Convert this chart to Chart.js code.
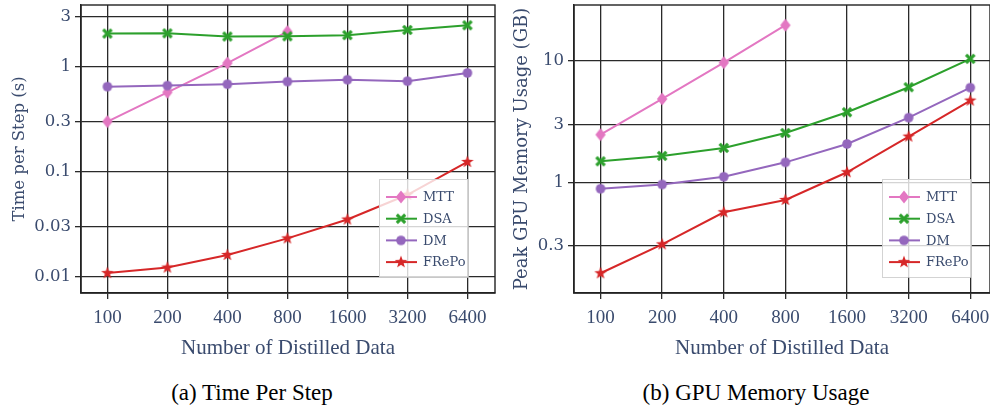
<!DOCTYPE html>
<html>
<head>
<meta charset="utf-8">
<script src="https://cdn.jsdelivr.net/npm/chart.js@4.4.1/dist/chart.umd.min.js"></script>
<style>
  body { margin: 0; background: #fff; }
  #wrap { position: relative; width: 990px; height: 408px; overflow: hidden; }
  canvas { position: absolute; top: 0; }
  .cap { position: absolute; top: 380px; font-family: "Liberation Serif", serif; font-size: 23px; color: #000; white-space: nowrap; transform: translateX(-50%); }
</style>
</head>
<body>
<div id="wrap">
  <canvas id="timeChart" width="497" height="370" style="left:0"></canvas>
  <canvas id="memChart" width="495" height="370" style="left:495px"></canvas>
  <div class="cap" style="left:252px">(a) Time Per Step</div>
  <div class="cap" style="left:756px">(b) GPU Memory Usage</div>
</div>
<script>
// number of distilled data (x axis)
const sizes = [100, 200, 400, 800, 1600, 3200, 6400];
const methods = ['MTT', 'DSA', 'DM', 'FRePo'];

// time per step (s)
const timeMTT = [0.30, 0.57, 1.08, 2.15, null, null, null];
const timeDSA = [2.06, 2.07, 1.93, 1.94, 1.99, 2.23, 2.47];
const timeDM = [0.645, 0.66, 0.68, 0.72, 0.75, 0.727, 0.87];
const timeFRePo = [0.0109, 0.0123, 0.0162, 0.0233, 0.0352, 0.0605, 0.124];
const timeTicks = [0.01, 0.03, 0.1, 0.3, 1, 3];

// peak GPU memory usage (GB)
const memMTT = [2.47, 4.86, 9.68, 19.7, null, null, null];
const memDSA = [1.49, 1.65, 1.92, 2.55, 3.78, 6.07, 10.4];
const memDM = [0.885, 0.96, 1.11, 1.46, 2.07, 3.41, 6.02];
const memFRePo = [0.178, 0.308, 0.566, 0.715, 1.21, 2.38, 4.71];
const memTicks = [0.3, 1, 3, 10];

const colors = { MTT: '#e377c2', DSA: '#2ca02c', DM: '#9467bd', FRePo: '#d62728' };
const textColor = '#3a4b6e';

function makeMarker(kind, color) {
    const c = document.createElement('canvas');
    c.width = 16; c.height = 16;
    const g = c.getContext('2d');
    g.translate(8, 8);
    g.fillStyle = color;
    g.strokeStyle = color;
    if (kind === 'diamond') {
        g.beginPath();
        g.moveTo(0, -6.4); g.lineTo(5.2, 0); g.lineTo(0, 6.4); g.lineTo(-5.2, 0);
        g.closePath(); g.fill();
    } else if (kind === 'x') {
        g.lineWidth = 3.2;
        g.beginPath();
        g.moveTo(-4.2, -4.2); g.lineTo(4.2, 4.2);
        g.moveTo(-4.2, 4.2); g.lineTo(4.2, -4.2);
        g.stroke();
    } else if (kind === 'circle') {
        g.beginPath(); g.arc(0, 0, 4.8, 0, Math.PI * 2); g.fill();
    } else if (kind === 'star') {
        g.beginPath();
        for (let i = 0; i < 10; i++) {
            const r = i % 2 ? 2.7 : 6.6;
            const a = -Math.PI / 2 + i * Math.PI / 5;
            g.lineTo(r * Math.cos(a), r * Math.sin(a));
        }
        g.closePath(); g.fill();
    }
    return c;
}

const markers = {
    MTT: makeMarker('diamond', colors.MTT),
    DSA: makeMarker('x', colors.DSA),
    DM: makeMarker('circle', colors.DM),
    FRePo: makeMarker('star', colors.FRePo)
};

// legend box in lower right and a full frame around the plot area
const frameLegend = {
    id: 'frameLegend',
    afterDraw(chart, args, opts) {
        const { ctx, chartArea } = chart;
        ctx.save();
        ctx.strokeStyle = '#222';
        ctx.lineWidth = 1.4;
        ctx.strokeRect(chartArea.left, chartArea.top, chartArea.right - chartArea.left, chartArea.bottom - chartArea.top);

        const w = 89, h = 98;
        const x0 = chartArea.right - opts.right - w;
        const y0 = chartArea.bottom - opts.bottom - h;
        ctx.fillStyle = 'rgba(255,255,255,0.8)';
        ctx.fillRect(x0, y0, w, h);
        ctx.strokeStyle = 'rgba(200,200,200,0.8)';
        ctx.lineWidth = 1;
        ctx.strokeRect(x0 + 0.5, y0 + 0.5, w, h);
        ctx.font = '13px "DejaVu Serif"';
        ctx.textBaseline = 'middle';
        methods.forEach((m, i) => {
            const y = y0 + 18 + i * 21.7;
            ctx.strokeStyle = colors[m];
            ctx.lineWidth = 2;
            ctx.beginPath();
            ctx.moveTo(x0 + 7, y); ctx.lineTo(x0 + 38, y);
            ctx.stroke();
            ctx.drawImage(markers[m], x0 + 22 - 8, y - 8);
            ctx.fillStyle = textColor;
            ctx.fillText(m, x0 + 44, y + 1);
        });
        ctx.restore();
    }
};

function makeDatasets(series) {
    return methods.map((m, i) => ({
        label: m,
        data: sizes.map((s, j) => ({ x: s, y: series[i][j] })),
        borderColor: colors[m],
        backgroundColor: colors[m],
        borderWidth: 2,
        pointStyle: markers[m],
        pointRadius: 6,
        order: methods.length - i,
        spanGaps: false
    }));
}

function createChart(id, series, cfg) {
    const ctx = document.getElementById(id).getContext('2d');
    return new Chart(ctx, {
        type: 'line',
        data: { datasets: makeDatasets(series) },
        plugins: [frameLegend],
        options: {
            responsive: false,
            animation: false,
            layout: { autoPadding: false, padding: { top: 5, right: cfg.padRight, left: 0, bottom: 0 } },
            plugins: {
                legend: { display: false },
                tooltip: { enabled: false },
                frameLegend: { right: cfg.legendRight, bottom: 16 }
            },
            scales: {
                x: {
                    type: 'logarithmic',
                    min: cfg.xMin,
                    max: cfg.xMax,
                    afterBuildTicks: scale => { scale.ticks = sizes.map(v => ({ value: v })); },
                    afterFit: scale => {
                        scale.height = 77;
                        scale.paddingLeft = 0;
                        scale.paddingRight = 0;
                    },
                    ticks: {
                        callback: v => String(v),
                        color: textColor,
                        font: { family: 'Liberation Serif', size: 19 },
                        padding: 8,
                        maxRotation: 0,
                        autoSkip: false
                    },
                    grid: { color: '#2a2a2a', lineWidth: 1.3, tickLength: 6, tickColor: '#2a2a2a' },
                    border: { display: true, color: '#222', width: 1.4 },
                    title: {
                        display: true,
                        text: 'Number of Distilled Data',
                        color: textColor,
                        font: { family: 'Liberation Serif', size: 21 },
                        padding: { top: 0, bottom: 9 }
                    }
                },
                y: {
                    type: 'logarithmic',
                    min: cfg.yMin,
                    max: cfg.yMax,
                    afterBuildTicks: scale => { scale.ticks = cfg.yTicks.map(v => ({ value: v })); },
                    afterFit: scale => {
                        scale.width = cfg.yWidth;
                        scale.paddingTop = 0;
                        scale.paddingBottom = 0;
                    },
                    ticks: {
                        callback: v => String(v),
                        color: textColor,
                        font: { family: 'DejaVu Serif', size: 16.5 },
                        padding: 4
                    },
                    grid: { color: '#2a2a2a', lineWidth: 1.3, tickLength: 6, tickColor: '#2a2a2a' },
                    border: { display: true, color: '#222', width: 1.4 },
                    title: {
                        display: true,
                        text: cfg.yTitle,
                        color: textColor,
                        font: { family: 'DejaVu Serif', size: cfg.yTitleSize },
                        padding: { top: cfg.yTitlePad, bottom: 0 }
                    }
                }
            }
        }
    });
}

createChart('timeChart', [timeMTT, timeDSA, timeDM, timeFRePo], {
    xMin: 100 * Math.pow(2, -0.44), xMax: 6400 * Math.pow(2, 0.46),
    yMin: 0.00705, yMax: 3.85, yTicks: timeTicks,
    yWidth: 81, padRight: 2, legendRight: 27,
    yTitle: 'Time per Step (s)', yTitleSize: 16.5, yTitlePad: 10
});

createChart('memChart', [memMTT, memDSA, memDM, memFRePo], {
    xMin: 100 * Math.pow(2, -0.43), xMax: 6400 * Math.pow(2, 0.32),
    yMin: 0.1224, yMax: 28.9, yTicks: memTicks,
    yWidth: 79, padRight: 0, legendRight: 19,
    yTitle: 'Peak GPU Memory Usage (GB)', yTitleSize: 18, yTitlePad: 17
});
</script>
</body>
</html>
